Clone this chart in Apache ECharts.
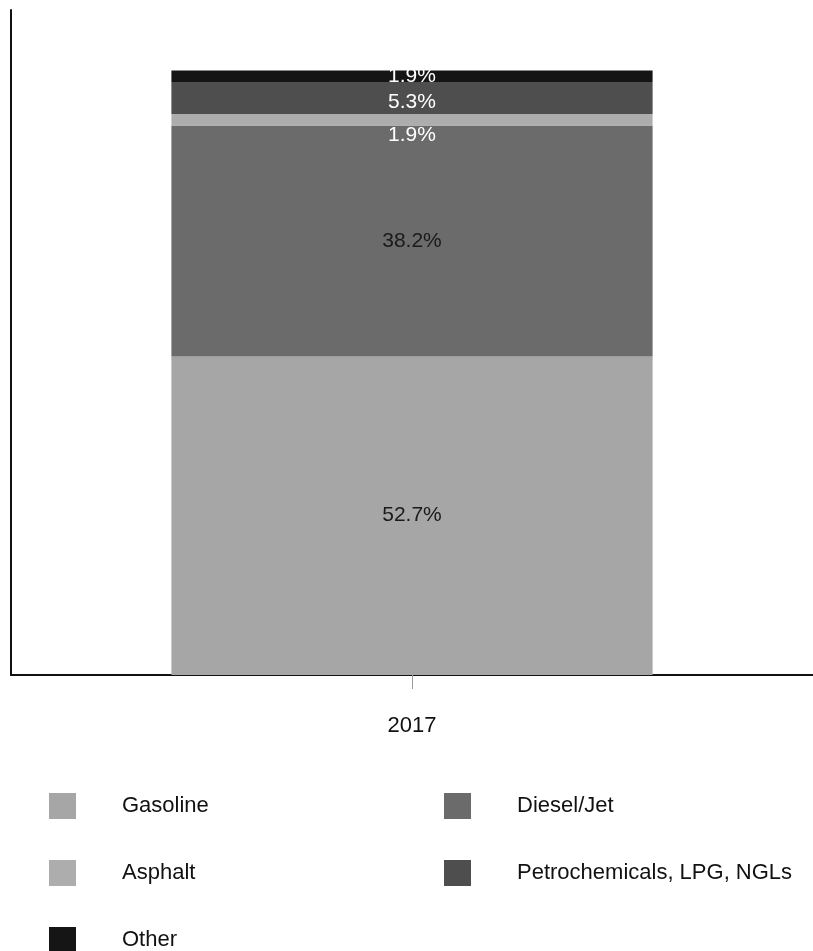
<!DOCTYPE html>
<html>
<head>
<meta charset="utf-8">
<script src="https://cdn.jsdelivr.net/npm/echarts@6/dist/echarts.min.js"></script>
<style>
  html, body { margin: 0; padding: 0; background: #fff; }
  #chart { width: 813px; height: 951px; }
</style>
</head>
<body>
<div id="chart"></div>
<script>
// data
var years = ['2017'];
var seriesNames = ['Gasoline', 'Diesel/Jet', 'Asphalt', 'Petrochemicals, LPG, NGLs', 'Other'];
var gasoline = [52.7];
var diesel = [38.2];
var asphalt = [1.9];
var petro = [5.3];
var other = [1.9];

var colors = ['#a6a6a6', '#6b6b6b', '#adadad', '#4e4e4e', '#151515'];
var labelColors = ['#1a1a1a', '#1a1a1a', '#ffffff', '#ffffff', '#ffffff'];
var labelOffsets = [[0, 0], [0, 0], [0, 15], [0, 4], [0, 0]];
var font = '"Liberation Sans", Arial, sans-serif';

var chart = echarts.init(document.getElementById('chart'));

var values = [gasoline, diesel, asphalt, petro, other];
var series = values.map(function (v, i) {
    return {
        name: seriesNames[i],
        type: 'bar',
        stack: 'total',
        barWidth: '60%',
        data: v,
        itemStyle: { color: colors[i] },
        label: {
            show: true,
            position: 'inside',
            formatter: '{c}%',
            color: labelColors[i],
            fontFamily: font,
            fontSize: 21,
            offset: labelOffsets[i]
        }
    };
});

// legend positions (one legend per item)
var legendPos = [[44, 788], [439, 788], [44, 855], [439, 855], [44, 922]];
var legends = seriesNames.map(function (n, i) {
    return {
        data: [n],
        left: legendPos[i][0],
        top: legendPos[i][1],
        icon: 'rect',
        itemWidth: 27,
        itemHeight: 26,
        selectedMode: false,
        textStyle: {
            fontFamily: font,
            fontSize: 22,
            color: '#111',
            padding: [0, 0, 0, 41]
        }
    };
});

var option = {
    animation: false,
    grid: { left: 11, right: 0, top: 10, bottom: 276, containLabel: false },
    legend: legends,
    xAxis: {
        type: 'category',
        data: years,
        axisLine: { lineStyle: { color: '#111', width: 2 } },
        axisTick: { show: true, alignWithLabel: true, length: 14, lineStyle: { color: '#999', width: 1 } },
        axisLabel: { fontFamily: font, fontSize: 22, color: '#111', margin: 40 }
    },
    yAxis: {
        type: 'value',
        min: 0,
        max: 110,
        axisLine: { show: true, lineStyle: { color: '#111', width: 2 } },
        axisTick: { show: false },
        axisLabel: { show: false },
        splitLine: { show: false }
    },
    series: series
};

chart.setOption(option);
</script>
</body>
</html>
